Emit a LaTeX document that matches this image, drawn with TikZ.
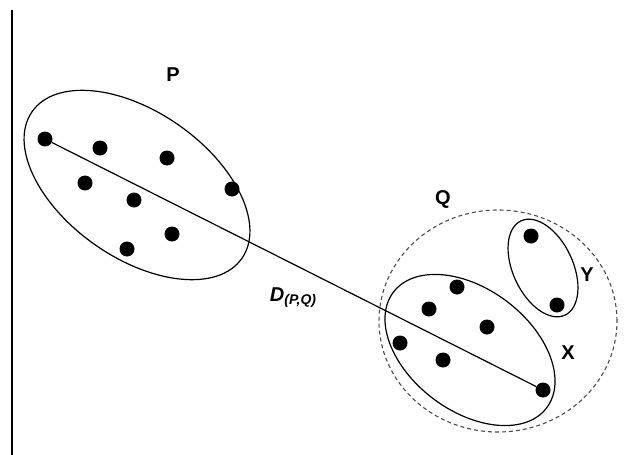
\documentclass[tikz,border=0pt]{standalone}
\usepackage{fontspec}
\setmainfont{Liberation Sans}
\usetikzlibrary{shapes.geometric}

\begin{document}
\begin{tikzpicture}[
    x=1pt, y=-1pt,
    every node/.style={font=\fontsize{20}{23}\selectfont\bfseries},
    pt/.style={circle, fill=black, inner sep=0pt, minimum size=15pt},
    grp/.style={ellipse, draw, line width=1.2pt, inner sep=0pt},
    outer/.style={ellipse, draw=black!70, dashed, dash pattern=on 4pt off 3pt,
                  line width=1.1pt, inner sep=0pt},
  ]
  \useasboundingbox (0,0) rectangle (632,455);
  \draw[line width=1.3pt] (12,10) -- (12,455);

  % clusters
  \node[grp, minimum width=256pt, minimum height=146pt, rotate=-35] (P) at (137,185) {};
  \node[outer, minimum width=238pt, minimum height=222pt] (Q) at (498,321) {};
  \node[grp, minimum width=192pt, minimum height=122pt, rotate=-37] (X) at (470,350) {};
  \node[grp, minimum width=104pt, minimum height=60pt, rotate=-65] (Y) at (543,268) {};

  % points of P
  \node[pt] (p1) at (45,139) {};
  \node[pt] (p2) at (100,148) {};
  \node[pt] (p3) at (167,158) {};
  \node[pt] (p4) at (85,183) {};
  \node[pt] (p5) at (134,200) {};
  \node[pt] (p6) at (232,189) {};
  \node[pt] (p7) at (172,234) {};
  \node[pt] (p8) at (127,249) {};

  % points of Q
  \node[pt] (x1) at (457,287) {};
  \node[pt] (x2) at (429,309) {};
  \node[pt] (x3) at (487,327) {};
  \node[pt] (x4) at (400,343) {};
  \node[pt] (x5) at (443,360) {};
  \node[pt] (x6) at (543,390) {};
  \node[pt] (y1) at (531,236) {};
  \node[pt] (y2) at (557,305) {};

  \draw[line width=1.2pt] (p1) -- (x6);

  \node (lp) at (173,75) {P};
  \node (lq) at (443,199) {Q};
  \node (lx) at (568,353) {X};
  \node (ly) at (587,275) {Y};
  \node (ld) at (293,298) {\itshape D\fontsize{14}{15}\selectfont\raisebox{-3pt}{(P,Q)}};
\end{tikzpicture}
\end{document}
